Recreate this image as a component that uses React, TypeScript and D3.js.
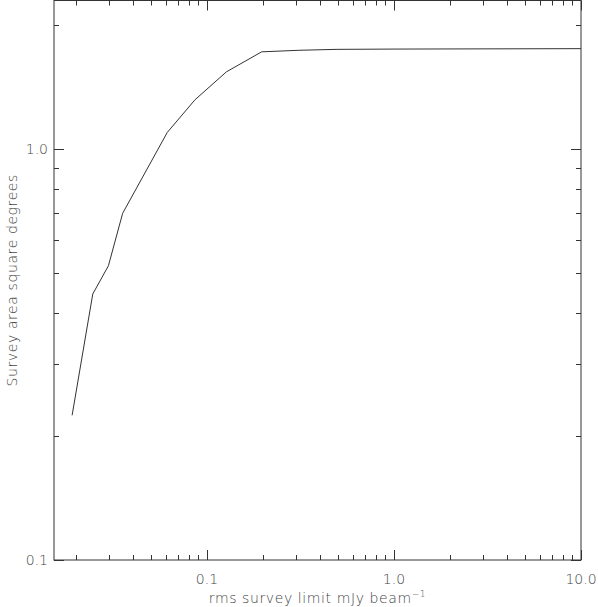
import React, { useEffect, useRef } from 'react';
import * as d3 from 'd3';

// rms survey limit (mJy/beam) vs survey area (sq. deg)
const rmsLimit = [0.019, 0.0245, 0.0297, 0.0354, 0.0613, 0.0863, 0.127, 0.196, 0.31, 0.49, 1.0, 10.0];
const surveyArea = [0.225, 0.444, 0.52, 0.698, 1.098, 1.319, 1.542, 1.725, 1.74, 1.749, 1.752, 1.756];

const xMajorTicks = [0.1, 1.0, 10.0];
const xTickLabels = ['0.1', '1.0', '10.0'];
const yMajorTicks = [0.1, 1.0];
const yTickLabels = ['0.1', '1.0'];

const App = () => {
  const svgRef = useRef<SVGSVGElement>(null);

  useEffect(() => {
    const svg = d3.select(svgRef.current);
    svg.selectAll('*').remove();

    const left = 54, right = 581, top = 0.5, bottom = 560;
    const font = '"DejaVu Sans", sans-serif';
    const textColor = '#444';

    const x = d3.scaleLog().domain([0.0152, 10]).range([left, right]);
    const y = d3.scaleLog().domain([0.1, 2.3]).range([bottom, top]);

    // minor ticks 2..9 for each decade inside the domain
    const minors = (dom: number[]) => {
      const out: number[] = [];
      for (let k = -3; k <= 1; k++) {
        for (let m = 2; m <= 9; m++) {
          const v = m * Math.pow(10, k);
          if (v > dom[0] && v < dom[1]) out.push(v);
        }
      }
      return out;
    };
    const xMinor = minors(x.domain());
    const yMinor = minors(y.domain());

    const g = svg.append('g').attr('stroke', '#333').attr('stroke-width', 1);

    // frame
    g.append('rect')
      .attr('x', left).attr('y', top)
      .attr('width', right - left).attr('height', bottom - top)
      .attr('fill', 'none');

    const major = 10, minor = 5;

    // x ticks (bottom and top, pointing inward)
    xMajorTicks.concat(xMinor).forEach(v => {
      const len = xMajorTicks.includes(v) ? major : minor;
      const px = Math.round(x(v)) + 0.5;
      g.append('line').attr('x1', px).attr('x2', px).attr('y1', bottom).attr('y2', bottom - len);
      g.append('line').attr('x1', px).attr('x2', px).attr('y1', top).attr('y2', top + len);
    });

    // y ticks (left and right, pointing inward)
    yMajorTicks.concat(yMinor).forEach(v => {
      const len = yMajorTicks.includes(v) ? major : minor;
      const py = Math.round(y(v)) + 0.5;
      g.append('line').attr('y1', py).attr('y2', py).attr('x1', left).attr('x2', left + len);
      g.append('line').attr('y1', py).attr('y2', py).attr('x1', right).attr('x2', right - len);
    });

    // tick labels
    const t = svg.append('g')
      .attr('font-family', font)
      .attr('font-size', 14)
      .attr('font-weight', 200)
      .attr('fill', textColor);

    xMajorTicks.forEach((v, i) => {
      t.append('text')
        .attr('x', x(v)).attr('y', 584)
        .attr('text-anchor', 'middle')
        .text(xTickLabels[i]);
    });

    yMajorTicks.forEach((v, i) => {
      t.append('text')
        .attr('x', 48).attr('y', y(v) + 5)
        .attr('text-anchor', 'end')
        .text(yTickLabels[i]);
    });

    // axis titles
    const xt = t.append('text')
      .attr('x', (left + right) / 2).attr('y', 603)
      .attr('text-anchor', 'middle')
      .attr('letter-spacing', 0.6);
    xt.append('tspan').text('rms survey limit mJy beam');
    xt.append('tspan').attr('dy', -6).attr('font-size', 9).text('\u22121');

    t.append('text')
      .attr('transform', `translate(17, ${(top + bottom) / 2}) rotate(-90)`)
      .attr('text-anchor', 'middle')
      .attr('letter-spacing', 0.6)
      .text('Survey area square degrees');

    // curve
    const pts = rmsLimit.map((d, i) => [d, surveyArea[i]] as [number, number]);
    svg.append('path')
      .datum(pts)
      .attr('fill', 'none')
      .attr('stroke', '#333')
      .attr('stroke-width', 1)
      .attr('d', d3.line<[number, number]>()
        .x(d => x(d[0]))
        .y(d => y(d[1]))
      );
  }, []);

  return (
    <div style={{ position: 'absolute', left: 0, top: 0 }}>
      <svg ref={svgRef} width={598} height={607} style={{ display: 'block', background: '#fff' }}></svg>
    </div>
  );
};

export default App;
